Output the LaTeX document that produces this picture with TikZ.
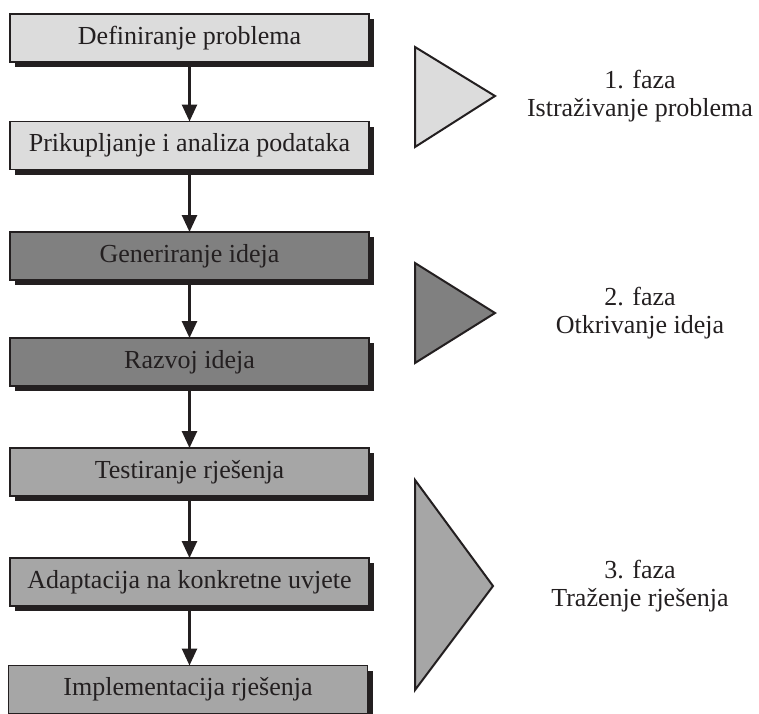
\documentclass[tikz,border=0pt]{standalone}
\usepackage{fontspec}
\setmainfont{Liberation Serif}
\usetikzlibrary{arrows.meta,shadows}
\definecolor{inkc}{HTML}{231F20}
\definecolor{lightfill}{HTML}{DCDCDC}
\definecolor{darkfill}{HTML}{808080}
\definecolor{midfill}{HTML}{A6A6A6}
\begin{document}
\begin{tikzpicture}[x=1pt,y=-1pt,
  stepbox/.style={draw=inkc, line width=1.6pt, minimum width=359pt, minimum height=48pt,
    inner sep=0pt, outer sep=0pt, text=inkc,
    font=\fontsize{26}{28}\selectfont,
    drop shadow={shadow xshift=5pt, shadow yshift=-5pt, fill=inkc, opacity=1}},
  flow/.style={draw=inkc, line width=2.6pt, -{Triangle[length=17pt,width=15pt]}},
  phase/.style={draw=inkc, line width=2pt, line join=miter},
  phasetext/.style={align=center, text=inkc, font=\fontsize{26}{28}\selectfont}]
  \clip (0,0) rectangle (759,713);
  \useasboundingbox (0,0) rectangle (759,713);

  % process steps
  \node[stepbox, fill=lightfill] (b1) at (189.5,38)   {Definiranje problema};
  \node[stepbox, fill=lightfill] (b2) at (189.5,145.5) {Prikupljanje i analiza podataka};
  \node[stepbox, fill=darkfill]  (b3) at (189.5,256)  {Generiranje ideja};
  \node[stepbox, fill=darkfill]  (b4) at (189.5,362)  {Razvoj ideja};
  \node[stepbox, fill=midfill]   (b5) at (189.5,472)  {Testiranje rješenja};
  \node[stepbox, fill=midfill]   (b6) at (189.5,582)  {Adaptacija na konkretne uvjete};
  \node[stepbox, fill=midfill]   (b7) at (188,689.5)  {Implementacija rješenja};

  % connectors
  \draw[flow] (b1.south) -- (b2.north);
  \draw[flow] (b2.south) -- (b3.north);
  \draw[flow] (b3.south) -- (b4.north);
  \draw[flow] (b4.south) -- (b5.north);
  \draw[flow] (b5.south) -- (b6.north);
  \draw[flow] (b6.south) -- ([xshift=1.5pt]b7.north);

  % phase markers
  \draw[phase, fill=lightfill] (415,47) -- (495,96) -- (415,147) -- cycle;
  \draw[phase, fill=darkfill]  (415,263) -- (495,313) -- (415,363) -- cycle;
  \draw[phase, fill=midfill]   (415,480) -- (493,586) -- (415,690) -- cycle;

  \node[phasetext] (p1) at (640,96)  {1. faza\\Istraživanje problema};
  \node[phasetext] (p2) at (640,313) {2. faza\\Otkrivanje ideja};
  \node[phasetext] (p3) at (640,586) {3. faza\\Traženje rješenja};
\end{tikzpicture}
\end{document}
